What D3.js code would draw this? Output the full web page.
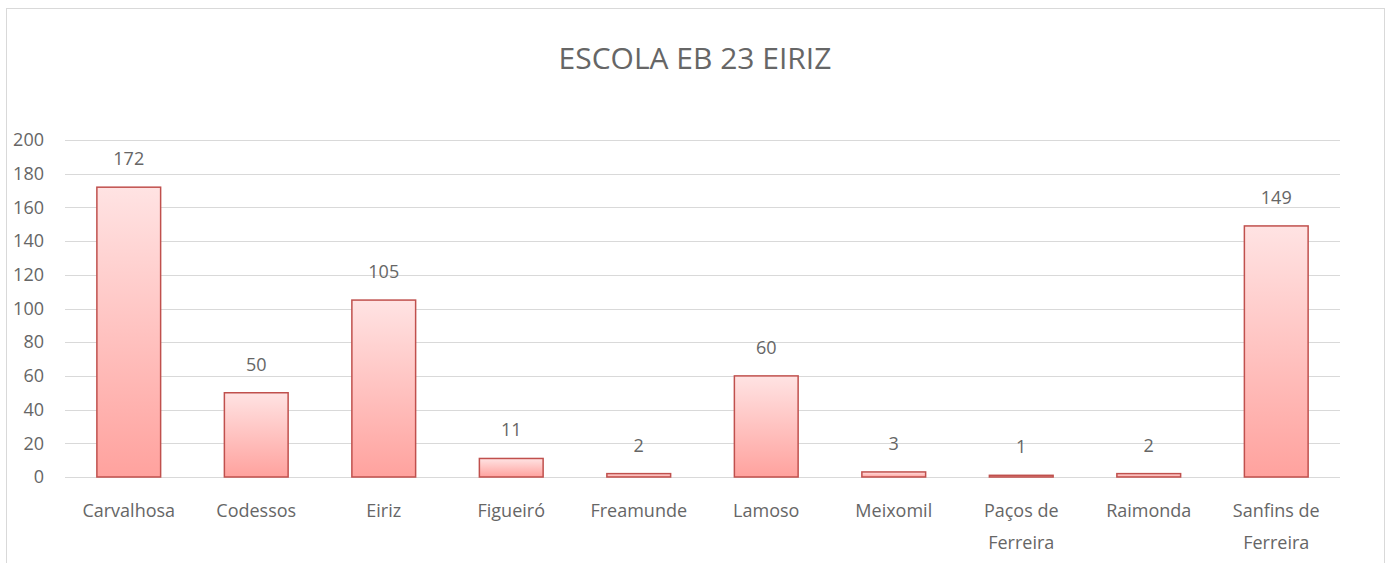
<!DOCTYPE html>
<html>
<head>
<meta charset="utf-8">
<script src="https://cdn.jsdelivr.net/npm/d3@7"></script>
<style>
  body { margin: 0; background: #fff; }
  svg text { font-family: "Open Sans", sans-serif; fill: #666666; }
</style>
</head>
<body>
<div class="chart"></div>
<script>
// data
var categories = ["Carvalhosa", "Codessos", "Eiriz", "Figueiró", "Freamunde", "Lamoso", "Meixomil", "Paços de Ferreira", "Raimonda", "Sanfins de Ferreira"];
var values = [172, 50, 105, 11, 2, 60, 3, 1, 2, 149];
var yTicks = [0, 20, 40, 60, 80, 100, 120, 140, 160, 180, 200];
var chartTitle = "ESCOLA EB 23 EIRIZ";

var svgWidth = 1392;
var svgHeight = 563;
var margin = { top: 140, right: 52, bottom: 86, left: 65 };
var width = svgWidth - margin.left - margin.right;
var height = svgHeight - margin.top - margin.bottom;

var svg = d3.select(".chart")
    .append("svg")
    .attr("width", svgWidth)
    .attr("height", svgHeight);

var defs = svg.append("defs");
var grad = defs.append("linearGradient")
    .attr("id", "barFill")
    .attr("x1", 0).attr("y1", 0).attr("x2", 0).attr("y2", 1);
grad.append("stop").attr("offset", "0%").attr("stop-color", "#ffe3e3");
grad.append("stop").attr("offset", "100%").attr("stop-color", "#ffa29e");

// outer chart border
svg.append("rect")
    .attr("x", 6.5).attr("y", 8.5)
    .attr("width", 1378).attr("height", 570)
    .attr("fill", "none")
    .attr("stroke", "#d9d9d9")
    .attr("stroke-width", 1);

svg.append("text")
    .attr("x", 695)
    .attr("y", 69)
    .attr("text-anchor", "middle")
    .attr("font-size", "30px")
    .text(chartTitle);

var chart = svg.append("g")
    .attr("transform", "translate(" + margin.left + "," + margin.top + ")");

var x = d3.scaleBand().domain(categories).range([0, width]).paddingInner(0.5).paddingOuter(0.25);
var y = d3.scaleLinear().domain([0, 200]).range([height, 0]);

// gridlines
chart.append("g")
    .selectAll("line")
    .data(yTicks)
    .enter()
    .append("line")
    .attr("x1", 0)
    .attr("x2", width)
    .attr("y1", function(d) { return Math.round(y(d)) + 0.5; })
    .attr("y2", function(d) { return Math.round(y(d)) + 0.5; })
    .attr("stroke", "#d9d9d9")
    .attr("stroke-width", 1);

// y axis labels
var leftAxis = d3.axisLeft(y).tickValues(yTicks).tickSize(0).tickPadding(21);
var yAxis = chart.append("g").call(leftAxis);
yAxis.select(".domain").remove();
yAxis.selectAll("text").attr("font-size", "18px").attr("font-family", null).attr("fill", null);

// bars
chart.selectAll("rect.bar")
    .data(values)
    .enter()
    .append("rect")
    .attr("class", "bar")
    .attr("x", function(d, i) { return x(categories[i]); })
    .attr("y", function(d) { return y(d); })
    .attr("width", x.bandwidth())
    .attr("height", function(d) { return height - y(d); })
    .attr("fill", "url(#barFill)")
    .attr("stroke", "#c0504d")
    .attr("stroke-width", 1.5);

// value labels
chart.selectAll("text.val")
    .data(values)
    .enter()
    .append("text")
    .attr("class", "val")
    .attr("x", function(d, i) { return x(categories[i]) + x.bandwidth() / 2; })
    .attr("y", function(d) { return y(d) - 22; })
    .attr("text-anchor", "middle")
    .attr("font-size", "18px")
    .text(function(d) { return d; });

// x axis labels, wrapped on two lines where Excel wraps them
var bottomAxis = d3.axisBottom(x).tickSize(0).tickPadding(0).tickFormat("");
var xAxis = chart.append("g").attr("transform", "translate(0," + height + ")").call(bottomAxis);
xAxis.select(".domain").remove();
xAxis.selectAll(".tick").each(function(d) {
    var words = d.split(" ");
    var lines = words.length > 2 ? [words.slice(0, 2).join(" "), words.slice(2).join(" ")] : [d];
    var t = d3.select(this).append("text")
        .attr("text-anchor", "middle")
        .attr("font-size", "18px")
        .attr("y", 40);
    lines.forEach(function(l, k) {
        t.append("tspan").attr("x", 0).attr("dy", k === 0 ? 0 : 32).text(l);
    });
});
</script>
</body>
</html>
